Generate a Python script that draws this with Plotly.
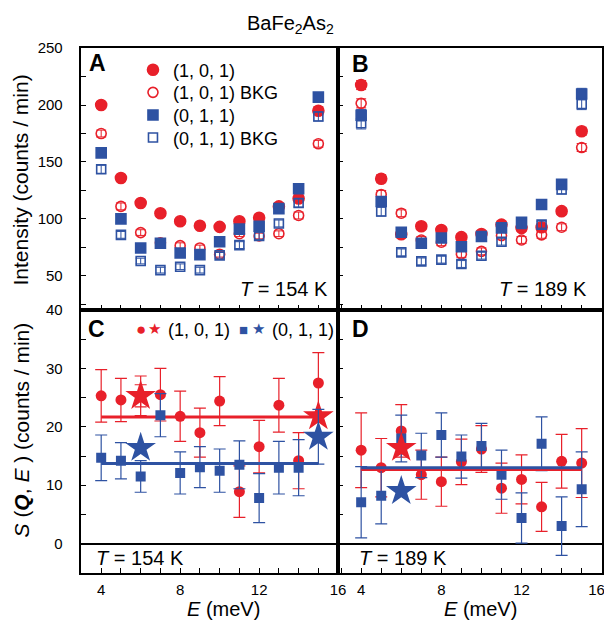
import plotly.graph_objects as go

# ---------------- data ----------------
E = [4, 5, 6, 7, 8, 9, 10, 11, 12, 13, 14, 15]
X_TICKVALS = [4, 8, 12, 16]
X_TICKTEXT_L = ["4", "8", "12", "16"]
X_TICKTEXT_R = ["4", "8", "12", "16\u2002\u2009"]

# Panel A (T = 154 K), raw intensities
A_101 = [200, 136, 114, 105, 98, 94, 93, 98, 101, 111, 118, 195]
A_101_err = [3, 3, 2.5, 2.5, 2.5, 2.5, 2.5, 2.5, 2.5, 3, 3, 3.5]
A_101_bkg = [175, 111, 88, 79, 76.5, 74.5, 69, 87, 85, 87, 103, 166]
A_101_bkg_err = [3, 3, 2.5, 2.5, 2.5, 2.5, 2.5, 2.5, 2.5, 2.5, 3, 3]
A_011 = [158, 100, 74.5, 78.6, 70, 68.6, 80, 91, 93.6, 109, 126.5, 207]
A_011_err = [3.5, 3, 2.5, 2.5, 2.5, 2.5, 2.5, 3, 3, 3, 3.5, 4]
A_011_bkg = [143.6, 86, 63, 55, 58, 55, 68, 77, 85, 96, 114, 190]
A_011_bkg_err = [3.5, 3, 2.5, 2.5, 2.5, 2.5, 2.5, 3, 3, 3, 3.5, 4]

# Panel B (T = 189 K)
B_101 = [217.6, 135.3, 86.5, 93.6, 90.3, 84, 86.8, 95, 92, 92.7, 106.8, 177]
B_101_err = [4, 3.5, 3, 3, 3, 3, 3, 3, 3, 3, 3, 3.5]
B_101_bkg = [201.5, 121.5, 105, 81.5, 79.5, 69.2, 71.5, 85.3, 81.5, 86, 92.7, 162.7]
B_101_bkg_err = [4, 3.5, 3, 3, 3, 3, 3, 3, 3, 3, 3, 3.5]
B_011 = [191, 115.3, 88.3, 78.6, 83.3, 75.6, 84.5, 92.1, 97.1, 112.7, 130.3, 209.7]
B_011_err = [5, 4, 3, 3, 3, 3, 3, 3, 3.5, 3, 4, 5]
B_011_bkg = [184, 106.5, 70.6, 62.7, 64.2, 60.4, 67.7, 80, 95.6, 95, 125.9, 201]
B_011_bkg_err = [5, 4, 3, 3, 3, 3, 3, 3, 3.5, 3, 4, 5]

# Panel C (T = 154 K), S(Q,E)
C_101 = [25.3, 24.6, 25.3, 25.5, 21.8, 19.0, 24.4, 8.9, 16.6, 23.7, 14.2, 27.5]
C_101_err = [4.5, 3.7, 3.4, 4.5, 4.3, 4.2, 4.2, 4.4, 4.5, 4.6, 4.8, 5.2]
C_011_E = [4, 5, 6, 7, 8, 9, 10, 11, 12, 13, 14]
C_011 = [14.7, 14.2, 11.5, 22.0, 12.1, 13.1, 12.5, 13.5, 7.8, 13.0, 13.0]
C_011_err = [3.9, 3.1, 2.7, 3.7, 3.6, 3.5, 3.7, 4.1, 4.2, 4.5, 4.8]
C_star_E = [6, 15]
C_star_101 = [25.3, 21.8]
C_star_101_err = [1.9, 0]
C_star_011 = [16.4, 18.3]
C_star_011_err = [0, 4.7]
C_mean_101 = 21.7
C_mean_011 = 13.7

# Panel D (T = 189 K)
D_101 = [16.0, 13.0, 19.3, 11.8, 10.6, 14.0, 16.2, 9.5, 11.0, 6.3, 14.1, 13.8]
D_101_err = [6.4, 5.0, 4.5, 4.2, 4.2, 3.9, 4.0, 4.3, 4.2, 4.2, 4.6, 5.9]
D_011 = [7.1, 8.2, 18.0, 15.1, 18.6, 14.9, 16.7, 11.8, 4.4, 17.1, 3.0, 9.3]
D_011_err = [6.1, 4.8, 4.0, 3.8, 3.8, 3.7, 3.9, 4.2, 4.3, 4.6, 5.0, 6.4]
D_star_E = [6]
D_star_101 = [16.4]
D_star_011 = [9.0]
D_mean_101 = 12.7
D_mean_011 = 13.0

LEGEND_NAMES = ["(1, 0, 1)", "(1, 0, 1) BKG", "(0, 1, 1)", "(0, 1, 1) BKG"]

# ---------------- style ----------------
RED = "#e8202a"
BLUE = "#2e52a2"
FONT = "Liberation Sans, Arial, sans-serif"
W, H = 612, 629
OFF = 8          # page body margin
SX, SY, BY = 0.986, 0.99, 7.8   # empirical screen mapping correction


def px(x):
    return (x / SX - OFF) / W


def py(y):
    return 1 - ((y - BY) / SY - OFF) / H


fig = go.Figure()


def raw(xa, ya, y, err, symbol, color, size):
    fig.add_trace(go.Scatter(
        x=E, y=y, xaxis=xa, yaxis=ya, mode="markers", showlegend=False,
        marker=dict(symbol=symbol, color=color, size=size,
                    line=dict(color=color, width=1.6)),
        error_y=dict(type="data", array=err, color=color, thickness=1, width=5),
    ))


for xa, ya, d in [("x", "y", (A_101, A_101_err, A_101_bkg, A_101_bkg_err, A_011, A_011_err, A_011_bkg, A_011_bkg_err)),
                  ("x2", "y2", (B_101, B_101_err, B_101_bkg, B_101_bkg_err, B_011, B_011_err, B_011_bkg, B_011_bkg_err))]:
    raw(xa, ya, d[0], d[1], "circle", RED, 11)
    raw(xa, ya, d[2], d[3], "circle-open", RED, 10)
    raw(xa, ya, d[4], d[5], "square", BLUE, 10)
    raw(xa, ya, d[6], d[7], "square-open", BLUE, 9)

# legend entries for panel A (one legend per row for exact spacing)
leg_style = [("circle", RED, 11), ("circle-open", RED, 10), ("square", BLUE, 10), ("square-open", BLUE, 9)]
leg_ids = ["legend", "legend2", "legend3", "legend4"]
for nm, (sym, col, sz), lid in zip(LEGEND_NAMES, leg_style, leg_ids):
    fig.add_trace(go.Scatter(x=[None], y=[None], xaxis="x", yaxis="y", mode="markers", name=nm,
                             legend=lid,
                             marker=dict(symbol=sym, color=col, size=sz, line=dict(color=col, width=1.6))))


def sqe(xa, ya, xs, y, err, symbol, color, size):
    fig.add_trace(go.Scatter(
        x=xs, y=y, xaxis=xa, yaxis=ya, mode="markers", showlegend=False,
        marker=dict(symbol=symbol, color=color, size=size, line=dict(width=0)),
        error_y=dict(type="data", array=err, color=color, thickness=1.2, width=6),
    ))


def meanline(xa, ya, m, color):
    fig.add_trace(go.Scatter(x=[E[0], E[-1]], y=[m, m], xaxis=xa, yaxis=ya, mode="lines",
                             showlegend=False, line=dict(color=color, width=3)))


# Panel C
sqe("x3", "y3", E, C_101, C_101_err, "circle", RED, 11)
meanline("x3", "y3", C_mean_101, RED)
sqe("x3", "y3", C_011_E, C_011, C_011_err, "square", BLUE, 10)
meanline("x3", "y3", C_mean_011, BLUE)
sqe("x3", "y3", C_star_E, C_star_101, C_star_101_err, "star", RED, 23)
sqe("x3", "y3", C_star_E, C_star_011, C_star_011_err, "star", BLUE, 23)

# Panel D
sqe("x4", "y4", E, D_101, D_101_err, "circle", RED, 11)
sqe("x4", "y4", E, D_011, D_011_err, "square", BLUE, 10)
meanline("x4", "y4", D_mean_101, RED)
meanline("x4", "y4", D_mean_011, BLUE)
sqe("x4", "y4", D_star_E, D_star_101, [0], "star", RED, 23)
sqe("x4", "y4", D_star_E, D_star_011, [0], "star", BLUE, 23)

XL = [px(82), px(341)]
XR = [px(341), px(607)]
YT = [py(310), py(47)]
YB = [py(574), py(310)]
XRANGE_L = [3, 16]
XRANGE_R = [2.85, 16]

common = dict(showline=True, linecolor="black", linewidth=1.5, mirror=True, showgrid=False,
              zeroline=False, ticks="inside", ticklen=5, tickcolor="black", tickwidth=1,
              tickfont=dict(family=FONT, size=15, color="black"), fixedrange=True)

legends = {}
for i, lid in enumerate(leg_ids):
    legends[lid] = dict(x=px(134), y=py(69 + 22.7 * i), xanchor="left", yanchor="middle",
                        bgcolor="rgba(0,0,0,0)", font=dict(family=FONT, size=18, color="black"))

fig.update_layout(
    width=W, height=H, margin=dict(l=0, r=0, t=0, b=0),
    plot_bgcolor="white", paper_bgcolor="white",
    font=dict(family=FONT, color="black"),
    xaxis=dict(domain=XL, anchor="y", range=XRANGE_L, tick0=0, dtick=1, showticklabels=False, **common),
    yaxis=dict(domain=YT, anchor="x", range=[20, 250], tick0=0, dtick=50, ticklabelstandoff=14,
               minor=dict(ticks="inside", dtick=25, ticklen=5, tickcolor="black"), **common),
    xaxis2=dict(domain=XR, anchor="y2", range=XRANGE_R, tick0=0, dtick=1, showticklabels=False, **common),
    yaxis2=dict(domain=YT, anchor="x2", range=[20, 250], tick0=0, dtick=25, showticklabels=False, **common),
    xaxis3=dict(domain=XL, anchor="y3", range=XRANGE_L, tickmode="array", tickvals=X_TICKVALS,
                ticktext=X_TICKTEXT_L, ticklabelstandoff=2, ticklabeloverflow="allow",
                minor=dict(ticks="inside", tickmode="linear", tick0=0, dtick=1, ticklen=5, tickcolor="black"),
                **common),
    yaxis3=dict(domain=YB, anchor="x3", range=[-5, 40], tick0=0, dtick=10, ticklabelstandoff=14,
                minor=dict(ticks="inside", dtick=5, ticklen=5, tickcolor="black"),
                **{**common, "zeroline": True}, zerolinecolor="black", zerolinewidth=2.2),
    xaxis4=dict(domain=XR, anchor="y4", range=XRANGE_R, tickmode="array", tickvals=X_TICKVALS,
                ticktext=X_TICKTEXT_R, ticklabelstandoff=2, ticklabeloverflow="allow",
                minor=dict(ticks="inside", tickmode="linear", tick0=0, dtick=1, ticklen=5, tickcolor="black"),
                **common),
    yaxis4=dict(domain=YB, anchor="x4", range=[-5, 40], tick0=0, dtick=5, showticklabels=False,
                **{**common, "zeroline": True}, zerolinecolor="black", zerolinewidth=2.2),
    xaxis5=dict(overlaying="x3", anchor="y3", side="top", range=XRANGE_L, tick0=0, dtick=2,
                ticks="inside", ticklen=5, tickcolor="black", showticklabels=False, showline=False,
                showgrid=False, zeroline=False, fixedrange=True),
    xaxis6=dict(overlaying="x4", anchor="y4", side="top", range=XRANGE_R, tick0=0, dtick=2,
                ticks="inside", ticklen=5, tickcolor="black", showticklabels=False, showline=False,
                showgrid=False, zeroline=False, fixedrange=True),
    **legends,
)

ann = []


def text(x, y, s, size, xanchor="center", yanchor="middle", angle=0, color="black"):
    ann.append(dict(x=px(x), y=py(y), xref="paper", yref="paper", text=s, showarrow=False,
                    xanchor=xanchor, yanchor=yanchor, textangle=angle,
                    font=dict(family=FONT, size=size, color=color)))


text(293, 23, "BaFe<sub>2</sub>As<sub>2</sub>", 20)
text(21, 179, "Intensity (counts / min)", 21, angle=-90)
text(21, 430, "<i>S</i> (<b><i>Q</i></b>, <i>E</i> ) (counts / min)", 21, angle=-90)
text(225, 610, "<i>E</i> (meV)", 20)
text(485, 610, "<i>E</i> (meV)", 20)
text(88, 62, "<b>A</b>", 23, xanchor="left")
text(353, 63, "<b>B</b>", 23, xanchor="left")
text(87, 329, "<b>C</b>", 23, xanchor="left")
text(353, 329, "<b>D</b>", 23, xanchor="left")
text(333, 289, "<i>T</i> = 154 K", 20, xanchor="right")
text(594, 289, "<i>T</i> = 189 K", 20, xanchor="right")
text(95, 559, "<i>T</i> = 154 K", 20, xanchor="left")
text(360, 559, "<i>T</i> = 189 K", 20, xanchor="left")
# panel C legend
text(142, 330, "●", 17, color=RED)
text(156, 329, "★", 15, color=RED)
text(167, 330, "(1, 0, 1)", 18, xanchor="left")
text(246, 330, "■", 15, color=BLUE)
text(261, 329, "★", 15, color=BLUE)
text(272, 330, "(0, 1, 1)", 18, xanchor="left")

fig.update_layout(annotations=ann)
fig.write_html("out.html")
